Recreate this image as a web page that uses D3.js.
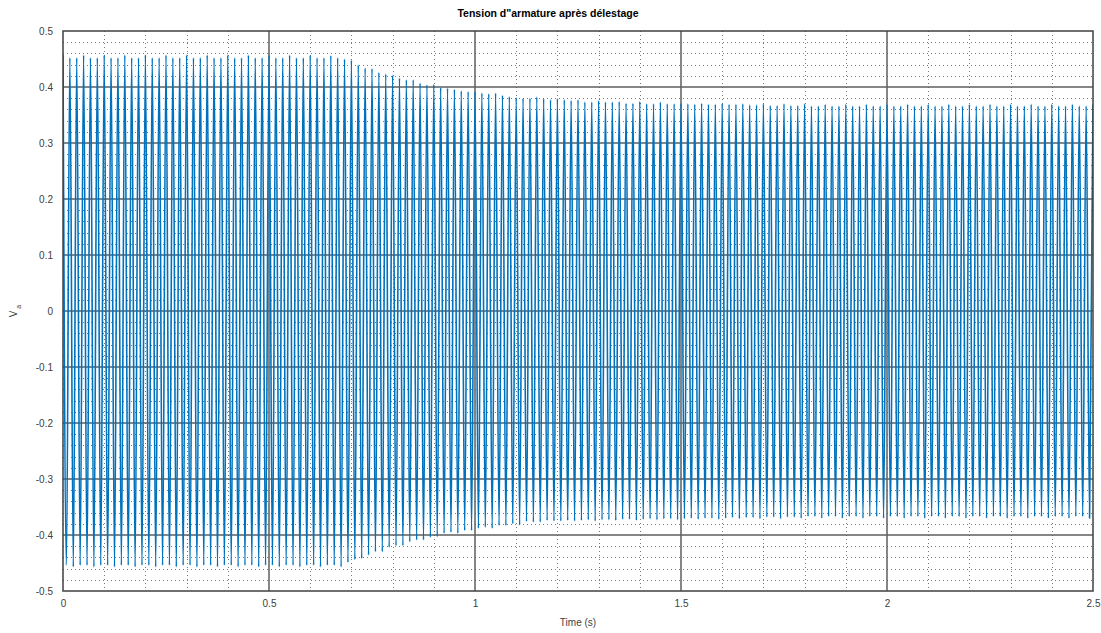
<!DOCTYPE html>
<html>
<head>
<meta charset="utf-8">
<script src="https://cdn.jsdelivr.net/npm/d3@7"></script>
<style>
  html, body { margin: 0; padding: 0; background: #fff; }
  svg { display: block; }
  text { font-family: "Liberation Sans", Arial, Helvetica, sans-serif; }
</style>
</head>
<body>
<svg id="chart" width="1101" height="633"></svg>
<script>
// Armature voltage after load shedding: 60 Hz waveform, one positive peak
// and one negative peak per cycle (values in per unit).
const freqHz = 60;

const upperPeaks = [
  0.457, 0.452, 0.452, 0.457, 0.452, 0.452, 0.457, 0.452, 0.452, 0.457,
  0.452, 0.452, 0.457, 0.452, 0.452, 0.457, 0.452, 0.452, 0.457, 0.452,
  0.452, 0.457, 0.452, 0.452, 0.457, 0.452, 0.452, 0.457, 0.452, 0.452,
  0.457, 0.452, 0.452, 0.457, 0.452, 0.452, 0.457, 0.452, 0.452, 0.456,
  0.452, 0.450, 0.448, 0.439, 0.434, 0.433, 0.426, 0.423, 0.421, 0.416,
  0.413, 0.413, 0.407, 0.404, 0.405, 0.399, 0.398, 0.396, 0.393, 0.392,
  0.392, 0.389, 0.388, 0.389, 0.385, 0.383, 0.381, 0.380, 0.380, 0.382,
  0.379, 0.377, 0.379, 0.377, 0.376, 0.377, 0.373, 0.373, 0.376, 0.373,
  0.373, 0.374, 0.371, 0.371, 0.374, 0.370, 0.370, 0.373, 0.370, 0.370,
  0.371, 0.370, 0.369, 0.371, 0.369, 0.369, 0.371, 0.369, 0.369, 0.370,
  0.368, 0.368, 0.370, 0.367, 0.367, 0.370, 0.367, 0.367, 0.370, 0.366,
  0.366, 0.369, 0.366, 0.366, 0.369, 0.366, 0.366, 0.369, 0.366, 0.366,
  0.369, 0.366, 0.366, 0.369, 0.366, 0.366, 0.369, 0.366, 0.366, 0.369,
  0.366, 0.366, 0.369, 0.366, 0.366, 0.369, 0.366, 0.366, 0.369, 0.366,
  0.366, 0.369, 0.366, 0.366, 0.369, 0.366, 0.366, 0.369, 0.366, 0.366,
  0.369
];

const lowerPeaks = [
  -0.454, -0.457, -0.454, -0.454, -0.457, -0.454, -0.454, -0.457, -0.454, -0.454,
  -0.457, -0.454, -0.454, -0.457, -0.454, -0.454, -0.457, -0.454, -0.454, -0.457,
  -0.454, -0.454, -0.457, -0.454, -0.454, -0.457, -0.454, -0.454, -0.457, -0.454,
  -0.454, -0.457, -0.454, -0.454, -0.457, -0.454, -0.454, -0.457, -0.454, -0.454,
  -0.457, -0.449, -0.444, -0.442, -0.436, -0.430, -0.430, -0.422, -0.419, -0.419,
  -0.412, -0.409, -0.409, -0.404, -0.403, -0.397, -0.395, -0.397, -0.392, -0.392,
  -0.388, -0.386, -0.388, -0.383, -0.383, -0.380, -0.382, -0.376, -0.377, -0.377,
  -0.374, -0.375, -0.375, -0.374, -0.375, -0.374, -0.373, -0.375, -0.373, -0.373,
  -0.374, -0.372, -0.372, -0.374, -0.372, -0.371, -0.373, -0.371, -0.371, -0.373,
  -0.371, -0.370, -0.372, -0.370, -0.370, -0.372, -0.370, -0.369, -0.371, -0.369,
  -0.369, -0.371, -0.368, -0.368, -0.371, -0.368, -0.368, -0.370, -0.367, -0.367,
  -0.370, -0.367, -0.367, -0.370, -0.367, -0.367, -0.370, -0.367, -0.367, -0.370,
  -0.367, -0.367, -0.370, -0.367, -0.367, -0.370, -0.367, -0.367, -0.370, -0.367,
  -0.367, -0.370, -0.367, -0.367, -0.370, -0.367, -0.367, -0.370, -0.367, -0.367,
  -0.370, -0.367, -0.367, -0.370, -0.367, -0.367, -0.370, -0.367, -0.367, -0.370
];

const xTicks = [0, 0.5, 1, 1.5, 2, 2.5];
const xTickLabels = ["0", "0.5", "1", "1.5", "2", "2.5"];
const yTicks = [-0.5, -0.4, -0.3, -0.2, -0.1, 0, 0.1, 0.2, 0.3, 0.4, 0.5];
const yTickLabels = ["-0.5", "-0.4", "-0.3", "-0.2", "-0.1", "0", "0.1", "0.2", "0.3", "0.4", "0.5"];

const titleText = "Tension d\"armature après délestage";
const xLabel = "Time (s)";

const plot = { left: 63, right: 1093, top: 31, bottom: 591 };

const svg = d3.select("#chart");
const x = d3.scaleLinear().domain([0, 2.5]).range([plot.left, plot.right]);
const y = d3.scaleLinear().domain([-0.5, 0.5]).range([plot.bottom, plot.top]);

// Minor grid (dotted)
const xMinor = d3.range(0, 25.01, 1).map(d => d / 10).filter(d => Math.abs(d * 2 - Math.round(d * 2)) > 1e-6);
const yMinor = d3.range(-25, 25.01, 1).map(d => d / 50).filter(d => Math.abs(d * 10 - Math.round(d * 10)) > 1e-6);

const grid = svg.append("g");
grid.selectAll("line.xminor").data(xMinor).join("line")
  .attr("x1", d => Math.round(x(d)) + 0.5).attr("x2", d => Math.round(x(d)) + 0.5)
  .attr("y1", plot.top).attr("y2", plot.bottom)
  .attr("stroke", "#7a7a7a").attr("stroke-width", 1).attr("stroke-dasharray", "1,3");
grid.selectAll("line.yminor").data(yMinor).join("line")
  .attr("y1", d => Math.round(y(d)) + 0.5).attr("y2", d => Math.round(y(d)) + 0.5)
  .attr("x1", plot.left).attr("x2", plot.right)
  .attr("stroke", "#7a7a7a").attr("stroke-width", 1).attr("stroke-dasharray", "1,3");

// Major grid (solid)
grid.selectAll("line.xmajor").data(xTicks.slice(1, -1)).join("line")
  .attr("x1", d => x(d)).attr("x2", d => x(d))
  .attr("y1", plot.top).attr("y2", plot.bottom)
  .attr("stroke", "#5e5e5e").attr("stroke-width", 1.5);
grid.selectAll("line.ymajor").data(yTicks.slice(1, -1)).join("line")
  .attr("y1", d => y(d)).attr("y2", d => y(d))
  .attr("x1", plot.left).attr("x2", plot.right)
  .attr("stroke", "#5e5e5e").attr("stroke-width", 1.5);

// Waveform: alternating positive and negative peaks, half a period apart
const points = [];
upperPeaks.forEach((v, k) => {
  points.push([k / freqHz, v]);
  if (k < lowerPeaks.length) points.push([(k + 0.5) / freqHz, lowerPeaks[k]]);
});

const line = d3.line()
  .x(d => x(d[0]))
  .y(d => y(d[1]))
  .curve(d3.curveMonotoneX);

svg.append("defs").append("clipPath").attr("id", "clip")
  .append("rect").attr("x", plot.left).attr("y", plot.top)
  .attr("width", plot.right - plot.left).attr("height", plot.bottom - plot.top);

svg.append("path")
  .datum(points)
  .attr("clip-path", "url(#clip)")
  .attr("d", line)
  .attr("fill", "none")
  .attr("stroke", "#0072BD")
  .attr("stroke-width", 1.6)
  .attr("stroke-linejoin", "round");

// Axes box
svg.append("rect")
  .attr("x", plot.left).attr("y", plot.top)
  .attr("width", plot.right - plot.left).attr("height", plot.bottom - plot.top)
  .attr("fill", "none").attr("stroke", "#404040").attr("stroke-width", 1.5);

// Tick labels via axes
const xAxis = d3.axisBottom(x).tickValues(xTicks).tickSize(0).tickPadding(9)
  .tickFormat((d, i) => xTickLabels[i]);
const gx = svg.append("g").attr("transform", `translate(0,${plot.bottom})`).call(xAxis);
gx.select(".domain").remove();
gx.selectAll("text").attr("font-size", 10).attr("fill", "#404040")
  .attr("font-family", "Liberation Sans, Arial, sans-serif");

const yAxis = d3.axisLeft(y).tickValues(yTicks).tickSize(0).tickPadding(10)
  .tickFormat((d, i) => yTickLabels[i]);
const gy = svg.append("g").attr("transform", `translate(${plot.left},0)`).call(yAxis);
gy.select(".domain").remove();
gy.selectAll("text").attr("font-size", 10).attr("fill", "#404040")
  .attr("font-family", "Liberation Sans, Arial, sans-serif");

// Title and axis labels
svg.append("text")
  .attr("x", 548).attr("y", 17)
  .attr("text-anchor", "middle")
  .attr("font-size", 10.5).attr("font-weight", "bold").attr("fill", "#000")
  .text(titleText);

svg.append("text")
  .attr("x", (plot.left + plot.right) / 2).attr("y", 626)
  .attr("text-anchor", "middle")
  .attr("font-size", 10).attr("fill", "#404040")
  .text(xLabel);

const yl = svg.append("text")
  .attr("transform", `translate(17,${(plot.top + plot.bottom) / 2}) rotate(-90)`)
  .attr("text-anchor", "middle")
  .attr("font-size", 10).attr("fill", "#404040");
yl.append("tspan").text("V");
yl.append("tspan").attr("dy", 4).attr("dx", 2).attr("font-size", 7).text("a");
</script>
</body>
</html>
